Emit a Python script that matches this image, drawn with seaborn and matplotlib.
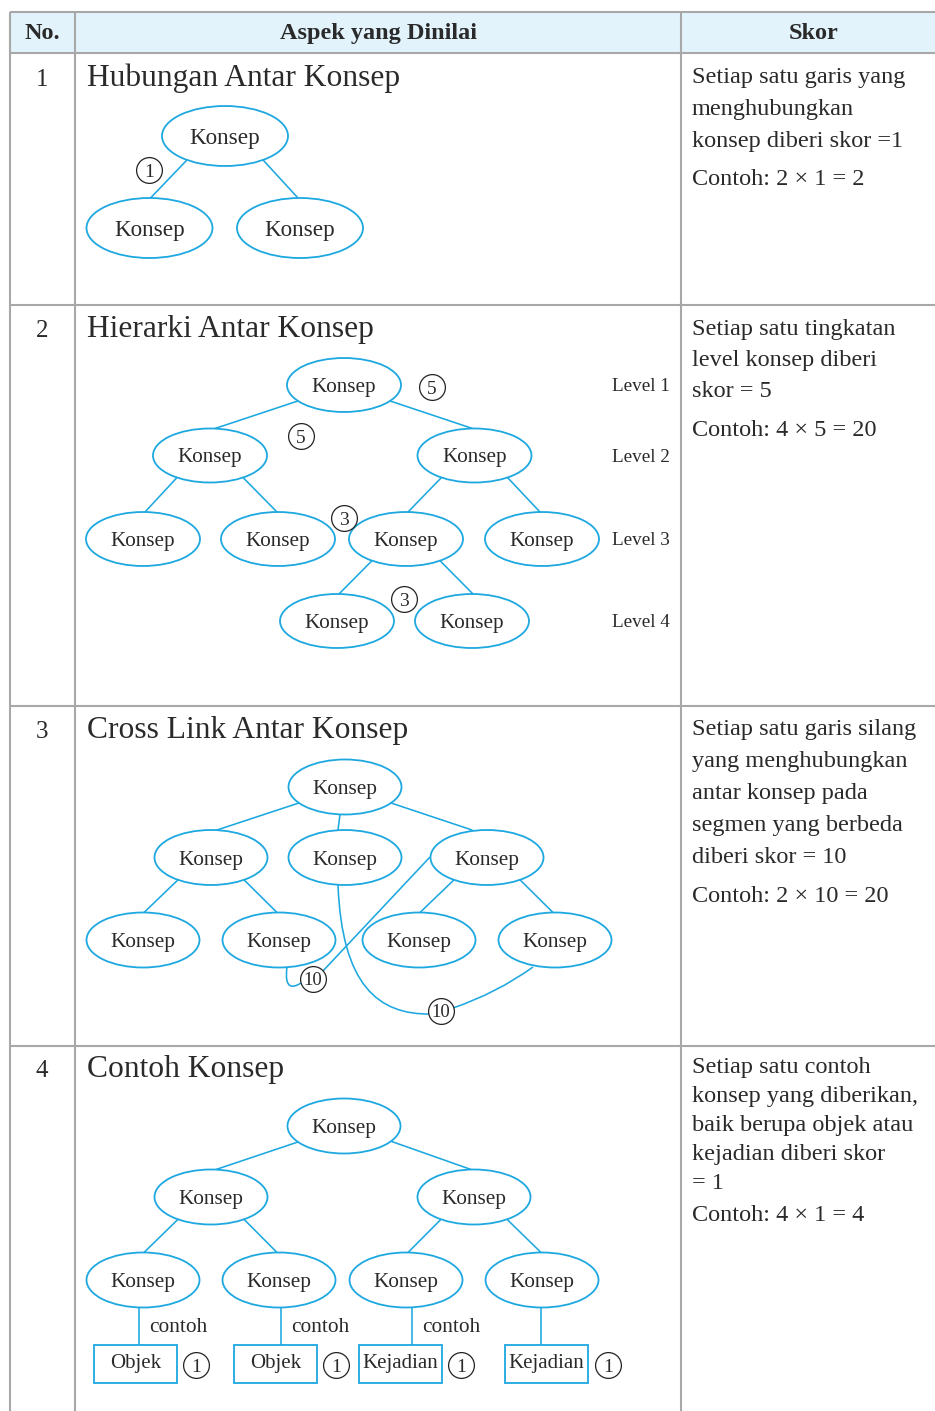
import numpy as np
import pandas as pd
import matplotlib
matplotlib.use("Agg")
import matplotlib.pyplot as plt
import seaborn as sns
from matplotlib.patches import Ellipse, Rectangle, PathPatch
from matplotlib.path import Path

# ---------------- data ----------------
header_labels = ["No.", "Aspek yang Dinilai", "Skor"]
row_numbers = ["1", "2", "3", "4"]
row_titles = ["Hubungan Antar Konsep", "Hierarki Antar Konsep",
              "Cross Link Antar Konsep", "Contoh Konsep"]
score_lines = [
    ["Setiap satu garis yang", "menghubungkan", "konsep diberi skor =1"],
    ["Setiap satu tingkatan", "level konsep diberi", "skor = 5"],
    ["Setiap satu garis silang", "yang menghubungkan", "antar konsep pada",
     "segmen yang berbeda", "diberi skor = 10"],
    ["Setiap satu contoh", "konsep yang diberikan,", "baik berupa objek atau",
     "kejadian diberi skor", "= 1"],
]
score_examples = ["Contoh: 2 × 1 = 2", "Contoh: 4 × 5 = 20",
                  "Contoh: 2 × 10 = 20", "Contoh: 4 × 1 = 4"]
node_label = "Konsep"
level_labels = ["Level 1", "Level 2", "Level 3", "Level 4"]
example_labels = ["Objek", "Objek", "Kejadian", "Kejadian"]
example_link = ["contoh", "contoh", "contoh", ""]
badge_values_1 = ["1"]
badge_values_2 = ["5", "5", "3", "3"]
badge_values_3 = ["10", "10"]
badge_values_4 = ["1", "1", "1", "1"]

# ---------------- layout (pixels) ----------------
W, H = 935, 1411
TXT = "#2a2a2a"
CYAN = "#1ea8e0"
GRID = "#a8a8a8"
HEAD_BG = "#e2f3fb"

sns.set_theme(style="white")
plt.rcParams["font.family"] = ["Liberation Serif", "DejaVu Serif"]

fig = plt.figure(figsize=(W / 100, H / 100), dpi=100)
ax = fig.add_axes([0, 0, 1, 1])
ax.set_xlim(0, W)
ax.set_ylim(H, 0)
ax.axis("off")

PX = 100 / 72.0  # px per pt

# table
col_x = [10, 75, 681]
row_y = [12, 53, 305, 706, 1046]
ax.add_patch(Rectangle((10, 12), W - 10, 41, facecolor=HEAD_BG, edgecolor="none", zorder=0))
for x in col_x:
    ax.plot([x, x], [12, H], color=GRID, lw=1.5, zorder=1, solid_capstyle="butt")
for y in row_y:
    ax.plot([10, W], [y, y], color=GRID, lw=1.5, zorder=1, solid_capstyle="butt")

# header
head_x = [42, 378, 814]
for lab, x in zip(header_labels, head_x):
    ax.text(x, 39, lab, ha="center", va="baseline", fontsize=17.5,
            fontweight="bold", color=TXT)

row_base = [86, 337, 738, 1077]
for num, title, yb in zip(row_numbers, row_titles, row_base):
    ax.text(42, yb, num, ha="center", va="baseline", fontsize=18, color=TXT)
    ax.text(87, yb, title, ha="left", va="baseline", fontsize=22.7, color=TXT)

# score column
first_base = [83, 335, 735, 1073]
line_gap = [32, 31, 32, 29]
ex_base = [185, 436, 902, 1221]
for lines, ex, yb, g, eb in zip(score_lines, score_examples, first_base, line_gap, ex_base):
    for i, ln in enumerate(lines):
        ax.text(692, yb + i * g, ln, ha="left", va="baseline", fontsize=17.5, color=TXT)
    ax.text(692, eb, ex, ha="left", va="baseline", fontsize=17.5, color=TXT)


def draw_nodes(xs, ys, w, h, fs):
    for x, y in zip(xs, ys):
        ax.add_patch(Ellipse((x, y), w, h, facecolor="white", edgecolor=CYAN,
                             lw=1.3, zorder=3))
        ax.text(x, y + 0.33 * fs * PX, node_label, ha="center", va="baseline",
                fontsize=fs, color=TXT, zorder=4)


def draw_edges(xs, ys, w, h, edges):
    for p, c, poff, coff in edges:
        a, b = w / 2, h / 2
        x0 = xs[p] + poff
        y0 = ys[p] + b * np.sqrt(max(0.0, 1 - (poff / a) ** 2))
        x1 = xs[c] + coff
        y1 = ys[c] - b
        ax.plot([x0, x1], [y0, y1], color=CYAN, lw=1.15, zorder=2)


def draw_badges(bx, by, labels, fs=14):
    df = pd.DataFrame({"x": bx, "y": by})
    sns.scatterplot(data=df, x="x", y="y", ax=ax, marker="o", s=345,
                    facecolor="white", edgecolor="#222222", linewidth=0.9,
                    zorder=5, legend=False)
    for x, y, t in zip(bx, by, labels):
        ax.text(x, y + 0.34 * fs * PX, t, ha="center", va="baseline",
                fontsize=fs, color=TXT, zorder=6)


# ---- diagram 1 ----
d1x = [225, 149.5, 300]
d1y = [136, 228, 228]
draw_edges(d1x, d1y, 126, 60, [(0, 1, -38, 1), (0, 2, 38, -2)])
draw_nodes(d1x, d1y, 126, 60, 16.7)
draw_badges([149], [170], badge_values_1)

# ---- diagram 2 ----
d2x = [344, 210, 474.5, 143, 278, 406, 542, 337, 472]
d2y = [385, 455.5, 455.5, 539, 539, 539, 539, 621, 621]
d2e = [(0, 1, -46, 5), (0, 2, 46, -2), (1, 3, -33, 2), (1, 4, 33, -1),
       (2, 5, -33, 2), (2, 6, 33, -2), (5, 7, -34, 2), (5, 8, 34, 1)]
draw_edges(d2x, d2y, 114, 54, d2e)
draw_nodes(d2x, d2y, 114, 54, 15.2)
for lab, yy in zip(level_labels, [385, 455.5, 539, 621]):
    ax.text(612, yy + 6, lab, ha="left", va="baseline", fontsize=13.8, color=TXT)
draw_badges([432, 301, 344, 404], [387, 436, 518, 599], badge_values_2)

# ---- diagram 3 ----
d3x = [345, 211, 345, 487, 143, 279, 419, 555]
d3y = [787, 857.5, 857.5, 857.5, 940, 940, 940, 940]
d3e = [(0, 1, -46, 6), (0, 2, -5, -7), (0, 3, 46, -15), (1, 4, -33, 1),
       (1, 5, 33, -2), (3, 6, -33, 1), (3, 7, 33, -2)]
draw_edges(d3x, d3y, 113, 55, d3e)
# cross links
curves = [
    ([(287, 967), (284, 990), (293, 988), (301, 983)],
     [Path.MOVETO, Path.CURVE4, Path.CURVE4, Path.CURVE4]),
    ([(322, 972), (430, 857)], [Path.MOVETO, Path.LINETO]),
    ([(338, 885), (342, 985), (378, 1015), (431, 1014)],
     [Path.MOVETO, Path.CURVE4, Path.CURVE4, Path.CURVE4]),
    ([(453, 1008), (497, 993), (533, 967)],
     [Path.MOVETO, Path.CURVE3, Path.CURVE3]),
]
for verts, codes in curves:
    ax.add_patch(PathPatch(Path(verts, codes), facecolor="none", edgecolor=CYAN,
                           lw=1.15, zorder=2))
draw_nodes(d3x, d3y, 113, 55, 15.3)
draw_badges([313, 441], [979, 1011], badge_values_3, fs=13.5)

# ---- diagram 4 ----
d4x = [344, 211, 474, 143, 279, 406, 542]
d4y = [1126, 1197, 1197, 1280, 1280, 1280, 1280]
d4e = [(0, 1, -46, 5), (0, 2, 47, -3), (1, 3, -33, 1), (1, 4, 33, -2),
       (2, 5, -33, 2), (2, 6, 33, -1)]
draw_edges(d4x, d4y, 113, 55, d4e)
stem_x = [139, 281, 412, 541]
box_x0 = [94, 234, 359, 505]
box_w = 83
box_y0, box_h = 1345, 38
for sx, nx, bx, lab, link in zip(stem_x, d4x[3:], box_x0, example_labels, example_link):
    ax.plot([sx, sx], [1280 + 27.5, box_y0], color=CYAN, lw=1.15, zorder=2)
    ax.add_patch(Rectangle((bx, box_y0), box_w, box_h, facecolor="white",
                           edgecolor=CYAN, lw=1.3, zorder=3))
    ax.text(bx + box_w / 2, 1368, lab, ha="center", va="baseline", fontsize=15,
            color=TXT, zorder=4)
    if link:
        ax.text(sx + 10, 1332, link, ha="left", va="baseline", fontsize=15.4,
                color=TXT)
draw_nodes(d4x, d4y, 113, 55, 15.3)
draw_badges([196, 336, 461, 608], [1365] * 4, badge_values_4)

fig.savefig("out.png", dpi=100)
